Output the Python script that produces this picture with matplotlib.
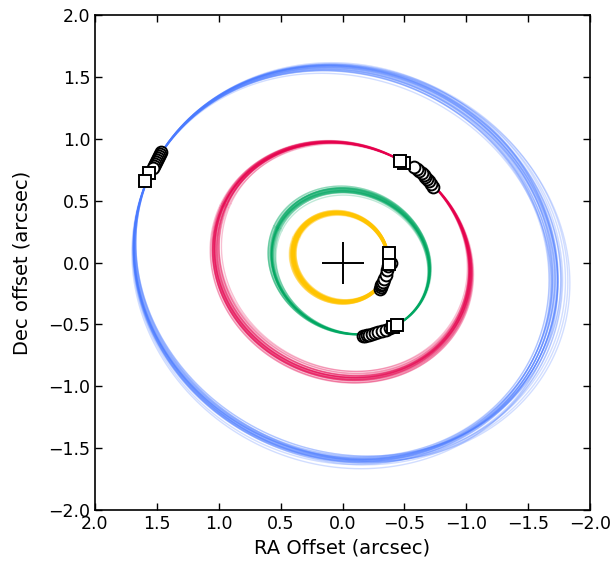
import numpy as np
import matplotlib
matplotlib.use("Agg")
import matplotlib.pyplot as plt

# ---------------- data (arcsec) ----------------
# Projected orbit draws per planet: semi-axes (a, b), orientation of major axis (deg, in RA/Dec frame)
b_a  = [1.73,1.74,1.72,1.74,1.72,1.75,1.73,1.74,1.76,1.71,1.72,1.75,1.73,1.76,1.74,
        1.72,1.78,1.73,1.75,1.72,1.74,1.75,1.72,1.77,1.73,1.74,1.74,1.71,1.73,1.79]
b_b  = [1.55,1.57,1.53,1.56,1.55,1.54,1.57,1.55,1.58,1.53,1.56,1.54,1.52,1.58,1.55,
        1.56,1.57,1.54,1.59,1.53,1.56,1.55,1.57,1.56,1.53,1.58,1.54,1.55,1.60,1.56]
b_th = [25,24.5,25.5,25,26,24,25,25.5,24.5,25.5,25,24,26,25,24.5,
        25.5,24,25,26,25,24.5,25.5,25,24,25.5,25,24.5,25.5,25,24]

c_a  = [1.06,1.05,1.07,1.04,1.06,1.05,1.08,1.04,1.06,1.05,1.07,1.045,1.06,1.035,1.05,
        1.065,1.075,1.05,1.04,1.06,1.025,1.055,1.065,1.08,1.045,1.05,1.02,1.06,1.055,1.035]
c_b  = [0.935,0.930,0.940,0.920,0.940,0.925,0.950,0.915,0.935,0.930,0.940,0.920,0.940,0.910,0.925,
        0.940,0.945,0.930,0.920,0.935,0.905,0.930,0.940,0.950,0.920,0.930,0.900,0.935,0.930,0.910]
c_th = [25,25.5,24.5,25,26,24.5,25,24,25.5,25,24.5,26,25,25.5,24.5,
        25,24,25.5,25,24.5,26,25,25.5,24.5,25,26,25,24.5,25.5,25]

d_a  = [0.650,0.660,0.645,0.650,0.665,0.655,0.645,0.660,0.650,0.640,0.660,0.655,0.670,0.645,0.650,
        0.660,0.640,0.650,0.645,0.660,0.655,0.670,0.650,0.645,0.660,0.655,0.640,0.650,0.660,0.630]
d_b  = [0.565,0.575,0.560,0.565,0.580,0.570,0.560,0.575,0.565,0.555,0.575,0.570,0.585,0.560,0.565,
        0.575,0.555,0.565,0.560,0.575,0.570,0.585,0.565,0.560,0.575,0.570,0.555,0.565,0.575,0.545]
d_th = [25,24.5,25.5,25,24,25.5,25,26,24.5,25,25.5,25,24.5,24,25.5,
        25,26,25,24.5,25.5,25,24.5,25,25.5,24,25,26,24.5,25,25.5]

e_a  = [0.390,0.395,0.385,0.390,0.400,0.390,0.385,0.395,0.390,0.380,0.395,0.390,0.400,0.385,0.390,
        0.395,0.383,0.390,0.387,0.397,0.390,0.403,0.390,0.385,0.395,0.390,0.382,0.390,0.396,0.388]
e_b  = [0.353,0.357,0.350,0.355,0.360,0.353,0.349,0.356,0.352,0.346,0.357,0.353,0.361,0.350,0.354,
        0.356,0.347,0.353,0.351,0.358,0.353,0.362,0.352,0.349,0.356,0.353,0.347,0.352,0.357,0.351]
e_th = [25,24,26,25,23.5,26,25,26.5,24,25,26,25,24,23.5,26,
        25,26.5,25,24,26,25,24,25,26,23.5,25,26.5,24,25,26]

# reference geometry: (a, b, theta, centre RA, centre Dec) and point where draws converge
b_ref = (1.73, 1.55, 25, 0.00, 0.00);       b_anchor = (1.53, 0.77)
c_ref = (1.059, 0.934, 25, 0.01, 0.005);    c_anchor = (-0.60, 0.74)
d_ref = (0.652, 0.567, 25, -0.068, -0.004); d_anchor = (-0.30, -0.56)
e_ref = (0.391, 0.353, 25, -0.005, 0.036);  e_anchor = (-0.36, -0.06)

# astrometry: circles (far -> near), squares
b_circ_ra  = [1.467,1.477,1.485,1.494,1.502,1.510,1.518,1.526,1.534]
b_circ_dec = [0.894,0.875,0.858,0.842,0.826,0.810,0.795,0.780,0.765]
b_sq_ra    = [1.567,1.594]
b_sq_dec   = [0.724,0.657]

c_circ_ra  = [-0.735,-0.715,-0.700,-0.685,-0.670,-0.655,-0.640,-0.620,-0.600,-0.580]
c_circ_dec = [0.611,0.636,0.655,0.672,0.690,0.705,0.720,0.740,0.758,0.772]
c_sq_ra    = [-0.500,-0.466]
c_sq_dec   = [0.805,0.821]

d_circ_ra  = [-0.165,-0.180,-0.195,-0.215,-0.240,-0.265,-0.290,-0.320,-0.350,-0.380]
d_circ_dec = [-0.592,-0.590,-0.588,-0.584,-0.578,-0.570,-0.562,-0.552,-0.542,-0.530]
d_sq_ra    = [-0.410,-0.444]
d_sq_dec   = [-0.525,-0.506]

e_circ_ra  = [-0.305,-0.310,-0.315,-0.322,-0.330,-0.338,-0.348,-0.360,-0.370,-0.390]
e_circ_dec = [-0.215,-0.200,-0.185,-0.170,-0.155,-0.130,-0.100,-0.060,-0.030,0.000]
e_sq_ra    = [-0.377,-0.377]
e_sq_dec   = [-0.015,0.075]

colors = {"b": "#4a7bff", "c": "#e6004c", "d": "#00a862", "e": "#ffc400"}

# ---------------- plotting ----------------
fig = plt.figure(figsize=(6.13, 5.65), dpi=100)
ax = fig.add_axes([95/613, 55/565, 495/613, 495/565])

t = np.linspace(0, 2*np.pi, 600)

def draw_orbits(A, B, TH, ref, anchor, color, lw=1.0, alpha=0.25):
    a0, b0, th0, cx0, cy0 = ref
    r0 = np.deg2rad(th0)
    dx, dy = anchor[0]-cx0, anchor[1]-cy0
    u = dx*np.cos(r0) + dy*np.sin(r0)
    v = -dx*np.sin(r0) + dy*np.cos(r0)
    t0 = np.arctan2(v/b0, u/a0)
    for a, b, th in zip(A, B, TH):
        r = np.deg2rad(th)
        px0 = a*np.cos(t0)*np.cos(r) - b*np.sin(t0)*np.sin(r)
        py0 = a*np.cos(t0)*np.sin(r) + b*np.sin(t0)*np.cos(r)
        cx, cy = anchor[0]-px0, anchor[1]-py0
        x = cx + a*np.cos(t)*np.cos(r) - b*np.sin(t)*np.sin(r)
        y = cy + a*np.cos(t)*np.sin(r) + b*np.sin(t)*np.cos(r)
        ax.plot(x, y, color=color, lw=lw, alpha=alpha, zorder=1)

draw_orbits(b_a, b_b, b_th, b_ref, b_anchor, colors["b"])
draw_orbits(c_a, c_b, c_th, c_ref, c_anchor, colors["c"])
draw_orbits(d_a, d_b, d_th, d_ref, d_anchor, colors["d"])
draw_orbits(e_a, e_b, e_th, e_ref, e_anchor, colors["e"], lw=1.8, alpha=0.3)

ax.plot(0, 0, marker="+", color="k", ms=30, mew=1.4, ls="none", zorder=3)

for cra, cde, sra, sde in [(b_circ_ra, b_circ_dec, b_sq_ra, b_sq_dec),
                           (c_circ_ra, c_circ_dec, c_sq_ra, c_sq_dec),
                           (d_circ_ra, d_circ_dec, d_sq_ra, d_sq_dec),
                           (e_circ_ra, e_circ_dec, e_sq_ra, e_sq_dec)]:
    for x, y in zip(cra, cde):
        ax.plot(x, y, marker="o", ms=8.5, mfc="white", mec="k", mew=1.4, ls="none", zorder=4)
    for x, y in zip(sra, sde):
        ax.plot(x, y, marker="s", ms=9, mfc="white", mec="k", mew=1.4, ls="none", zorder=5)

ax.set_xlim(2.0, -2.0)
ax.set_ylim(-2.0, 2.0)
ticks = [-2.0, -1.5, -1.0, -0.5, 0.0, 0.5, 1.0, 1.5, 2.0]
ax.set_xticks(ticks)
ax.set_yticks(ticks)
ax.tick_params(direction="in", top=True, right=True, length=5, width=1.0, labelsize=12.5)
for s in ax.spines.values():
    s.set_linewidth(1.2)
ax.set_xlabel("RA Offset (arcsec)", fontsize=14)
ax.set_ylabel("Dec offset (arcsec)", fontsize=14, labelpad=12)

fig.savefig("out.png", dpi=100)
